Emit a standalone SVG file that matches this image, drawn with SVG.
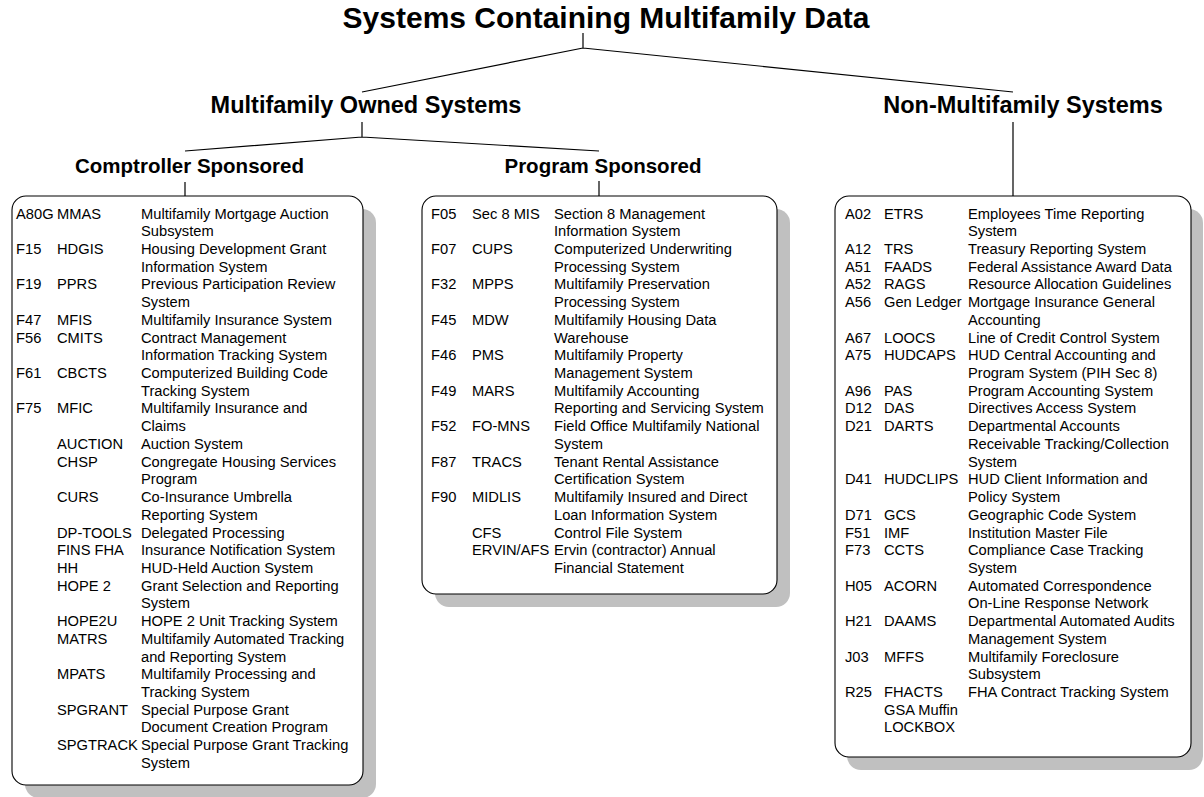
<svg xmlns="http://www.w3.org/2000/svg" width="1204" height="797" viewBox="0 0 1204 797">
<style>
.h0{font-family:"Liberation Sans",Arial,sans-serif;font-weight:bold;font-size:30px;fill:#000;text-anchor:middle}
.h1{font-family:"Liberation Sans",Arial,sans-serif;font-weight:bold;font-size:23.5px;fill:#000;text-anchor:middle}
.h2{font-family:"Liberation Sans",Arial,sans-serif;font-weight:bold;font-size:20.5px;fill:#000;text-anchor:middle}
.t{font-family:"Liberation Sans",Arial,sans-serif;font-size:14.7px;fill:#000}
.box{fill:#fff;stroke:#000;stroke-width:1.1}
.shadow{fill:#c0c0c0;stroke:none}
.con{fill:none;stroke:#000;stroke-width:1.2}
</style>
<rect width="1204" height="797" fill="#fff"/>
<g id="connectors">
<path class="con" d="M583,33 V48 M583,48 L362,92 M583,48 L1013,92"/>
<path class="con" d="M362,122 V137 M362,137 L185,151 M362,137 L599,151"/>
<path class="con" d="M185,182 V196 M599,181 V196 M1013,122 V196"/>
</g>
<g id="title"><text class="h0" x="606" y="28">Systems Containing Multifamily Data</text></g>
<g id="mf-owned"><text class="h1" x="366" y="113">Multifamily Owned Systems</text></g>
<g id="non-mf"><text class="h1" x="1023" y="113">Non-Multifamily Systems</text></g>
<g id="comptroller-label"><text class="h2" x="189.5" y="172.5">Comptroller Sponsored</text></g>
<g id="program-label"><text class="h2" x="603" y="172.5">Program Sponsored</text></g>

<g id="comptroller-box">
<rect class="shadow" x="25" y="209" width="351" height="589" rx="14"/>
<rect class="box" x="12" y="196" width="351" height="589" rx="14"/>
<text class="t"><tspan x="16" y="218.5">A80G</tspan><tspan x="16" y="253.9">F15</tspan><tspan x="16" y="289.4">F19</tspan><tspan x="16" y="324.8">F47</tspan><tspan x="16" y="342.5">F56</tspan><tspan x="16" y="378.0">F61</tspan><tspan x="16" y="413.4">F75</tspan></text>
<text class="t"><tspan x="57" y="218.5">MMAS</tspan><tspan x="57" y="253.9">HDGIS</tspan><tspan x="57" y="289.4">PPRS</tspan><tspan x="57" y="324.8">MFIS</tspan><tspan x="57" y="342.5">CMITS</tspan><tspan x="57" y="378.0">CBCTS</tspan><tspan x="57" y="413.4">MFIC</tspan><tspan x="57" y="448.9">AUCTION</tspan><tspan x="57" y="466.6">CHSP</tspan><tspan x="57" y="502.0">CURS</tspan><tspan x="57" y="537.5">DP-TOOLS</tspan><tspan x="57" y="555.2">FINS FHA</tspan><tspan x="57" y="572.9">HH</tspan><tspan x="57" y="590.6">HOPE 2</tspan><tspan x="57" y="626.1">HOPE2U</tspan><tspan x="57" y="643.8">MATRS</tspan><tspan x="57" y="679.2">MPATS</tspan><tspan x="57" y="714.7">SPGRANT</tspan><tspan x="57" y="750.1">SPGTRACK</tspan></text>
<text class="t"><tspan x="141" y="218.5">Multifamily Mortgage Auction</tspan><tspan x="141" y="236.2">Subsystem</tspan><tspan x="141" y="253.9">Housing Development Grant</tspan><tspan x="141" y="271.7">Information System</tspan><tspan x="141" y="289.4">Previous Participation Review</tspan><tspan x="141" y="307.1">System</tspan><tspan x="141" y="324.8">Multifamily Insurance System</tspan><tspan x="141" y="342.5">Contract Management</tspan><tspan x="141" y="360.3">Information Tracking System</tspan><tspan x="141" y="378.0">Computerized Building Code</tspan><tspan x="141" y="395.7">Tracking System</tspan><tspan x="141" y="413.4">Multifamily Insurance and</tspan><tspan x="141" y="431.1">Claims</tspan><tspan x="141" y="448.9">Auction System</tspan><tspan x="141" y="466.6">Congregate Housing Services</tspan><tspan x="141" y="484.3">Program</tspan><tspan x="141" y="502.0">Co-Insurance Umbrella</tspan><tspan x="141" y="519.7">Reporting System</tspan><tspan x="141" y="537.5">Delegated Processing</tspan><tspan x="141" y="555.2">Insurance Notification System</tspan><tspan x="141" y="572.9">HUD-Held Auction System</tspan><tspan x="141" y="590.6">Grant Selection and Reporting</tspan><tspan x="141" y="608.3">System</tspan><tspan x="141" y="626.1">HOPE 2 Unit Tracking System</tspan><tspan x="141" y="643.8">Multifamily Automated Tracking</tspan><tspan x="141" y="661.5">and Reporting System</tspan><tspan x="141" y="679.2">Multifamily Processing and</tspan><tspan x="141" y="696.9">Tracking System</tspan><tspan x="141" y="714.7">Special Purpose Grant</tspan><tspan x="141" y="732.4">Document Creation Program</tspan><tspan x="141" y="750.1">Special Purpose Grant Tracking</tspan><tspan x="141" y="767.8">System</tspan></text>
</g>

<g id="program-box">
<rect class="shadow" x="435" y="209" width="355" height="398" rx="14"/>
<rect class="box" x="422" y="196" width="355" height="398" rx="14"/>
<text class="t"><tspan x="431" y="218.5">F05</tspan><tspan x="431" y="253.9">F07</tspan><tspan x="431" y="289.4">F32</tspan><tspan x="431" y="324.8">F45</tspan><tspan x="431" y="360.3">F46</tspan><tspan x="431" y="395.7">F49</tspan><tspan x="431" y="431.1">F52</tspan><tspan x="431" y="466.6">F87</tspan><tspan x="431" y="502.0">F90</tspan></text>
<text class="t"><tspan x="472" y="218.5">Sec 8 MIS</tspan><tspan x="472" y="253.9">CUPS</tspan><tspan x="472" y="289.4">MPPS</tspan><tspan x="472" y="324.8">MDW</tspan><tspan x="472" y="360.3">PMS</tspan><tspan x="472" y="395.7">MARS</tspan><tspan x="472" y="431.1">FO-MNS</tspan><tspan x="472" y="466.6">TRACS</tspan><tspan x="472" y="502.0">MIDLIS</tspan><tspan x="472" y="537.5">CFS</tspan><tspan x="472" y="555.2">ERVIN/AFS</tspan></text>
<text class="t"><tspan x="554" y="218.5">Section 8 Management</tspan><tspan x="554" y="236.2">Information System</tspan><tspan x="554" y="253.9">Computerized Underwriting</tspan><tspan x="554" y="271.7">Processing System</tspan><tspan x="554" y="289.4">Multifamily Preservation</tspan><tspan x="554" y="307.1">Processing System</tspan><tspan x="554" y="324.8">Multifamily Housing Data</tspan><tspan x="554" y="342.5">Warehouse</tspan><tspan x="554" y="360.3">Multifamily Property</tspan><tspan x="554" y="378.0">Management System</tspan><tspan x="554" y="395.7">Multifamily Accounting</tspan><tspan x="554" y="413.4">Reporting and Servicing System</tspan><tspan x="554" y="431.1">Field Office Multifamily National</tspan><tspan x="554" y="448.9">System</tspan><tspan x="554" y="466.6">Tenant Rental Assistance</tspan><tspan x="554" y="484.3">Certification System</tspan><tspan x="554" y="502.0">Multifamily Insured and Direct</tspan><tspan x="554" y="519.7">Loan Information System</tspan><tspan x="554" y="537.5">Control File System</tspan><tspan x="554" y="555.2">Ervin (contractor) Annual</tspan><tspan x="554" y="572.9">Financial Statement</tspan></text>
</g>

<g id="non-mf-box">
<rect class="shadow" x="847" y="209" width="356" height="561" rx="14"/>
<rect class="box" x="835" y="196" width="356" height="561" rx="14"/>
<text class="t"><tspan x="845" y="218.5">A02</tspan><tspan x="845" y="253.9">A12</tspan><tspan x="845" y="271.7">A51</tspan><tspan x="845" y="289.4">A52</tspan><tspan x="845" y="307.1">A56</tspan><tspan x="845" y="342.5">A67</tspan><tspan x="845" y="360.3">A75</tspan><tspan x="845" y="395.7">A96</tspan><tspan x="845" y="413.4">D12</tspan><tspan x="845" y="431.1">D21</tspan><tspan x="845" y="484.3">D41</tspan><tspan x="845" y="519.7">D71</tspan><tspan x="845" y="537.5">F51</tspan><tspan x="845" y="555.2">F73</tspan><tspan x="845" y="590.6">H05</tspan><tspan x="845" y="626.1">H21</tspan><tspan x="845" y="661.5">J03</tspan><tspan x="845" y="696.9">R25</tspan></text>
<text class="t"><tspan x="884" y="218.5">ETRS</tspan><tspan x="884" y="253.9">TRS</tspan><tspan x="884" y="271.7">FAADS</tspan><tspan x="884" y="289.4">RAGS</tspan><tspan x="884" y="307.1">Gen Ledger</tspan><tspan x="884" y="342.5">LOOCS</tspan><tspan x="884" y="360.3">HUDCAPS</tspan><tspan x="884" y="395.7">PAS</tspan><tspan x="884" y="413.4">DAS</tspan><tspan x="884" y="431.1">DARTS</tspan><tspan x="884" y="484.3">HUDCLIPS</tspan><tspan x="884" y="519.7">GCS</tspan><tspan x="884" y="537.5">IMF</tspan><tspan x="884" y="555.2">CCTS</tspan><tspan x="884" y="590.6">ACORN</tspan><tspan x="884" y="626.1">DAAMS</tspan><tspan x="884" y="661.5">MFFS</tspan><tspan x="884" y="696.9">FHACTS</tspan><tspan x="884" y="714.7">GSA Muffin</tspan><tspan x="884" y="732.4">LOCKBOX</tspan></text>
<text class="t"><tspan x="968" y="218.5">Employees Time Reporting</tspan><tspan x="968" y="236.2">System</tspan><tspan x="968" y="253.9">Treasury Reporting System</tspan><tspan x="968" y="271.7">Federal Assistance Award Data</tspan><tspan x="968" y="289.4">Resource Allocation Guidelines</tspan><tspan x="968" y="307.1">Mortgage Insurance General</tspan><tspan x="968" y="324.8">Accounting</tspan><tspan x="968" y="342.5">Line of Credit Control System</tspan><tspan x="968" y="360.3">HUD Central Accounting and</tspan><tspan x="968" y="378.0">Program System (PIH Sec 8)</tspan><tspan x="968" y="395.7">Program Accounting System</tspan><tspan x="968" y="413.4">Directives Access System</tspan><tspan x="968" y="431.1">Departmental Accounts</tspan><tspan x="968" y="448.9">Receivable Tracking/Collection</tspan><tspan x="968" y="466.6">System</tspan><tspan x="968" y="484.3">HUD Client Information and</tspan><tspan x="968" y="502.0">Policy System</tspan><tspan x="968" y="519.7">Geographic Code System</tspan><tspan x="968" y="537.5">Institution Master File</tspan><tspan x="968" y="555.2">Compliance Case Tracking</tspan><tspan x="968" y="572.9">System</tspan><tspan x="968" y="590.6">Automated Correspondence</tspan><tspan x="968" y="608.3">On-Line Response Network</tspan><tspan x="968" y="626.1">Departmental Automated Audits</tspan><tspan x="968" y="643.8">Management System</tspan><tspan x="968" y="661.5">Multifamily Foreclosure</tspan><tspan x="968" y="679.2">Subsystem</tspan><tspan x="968" y="696.9">FHA Contract Tracking System</tspan></text>
</g>
</svg>
